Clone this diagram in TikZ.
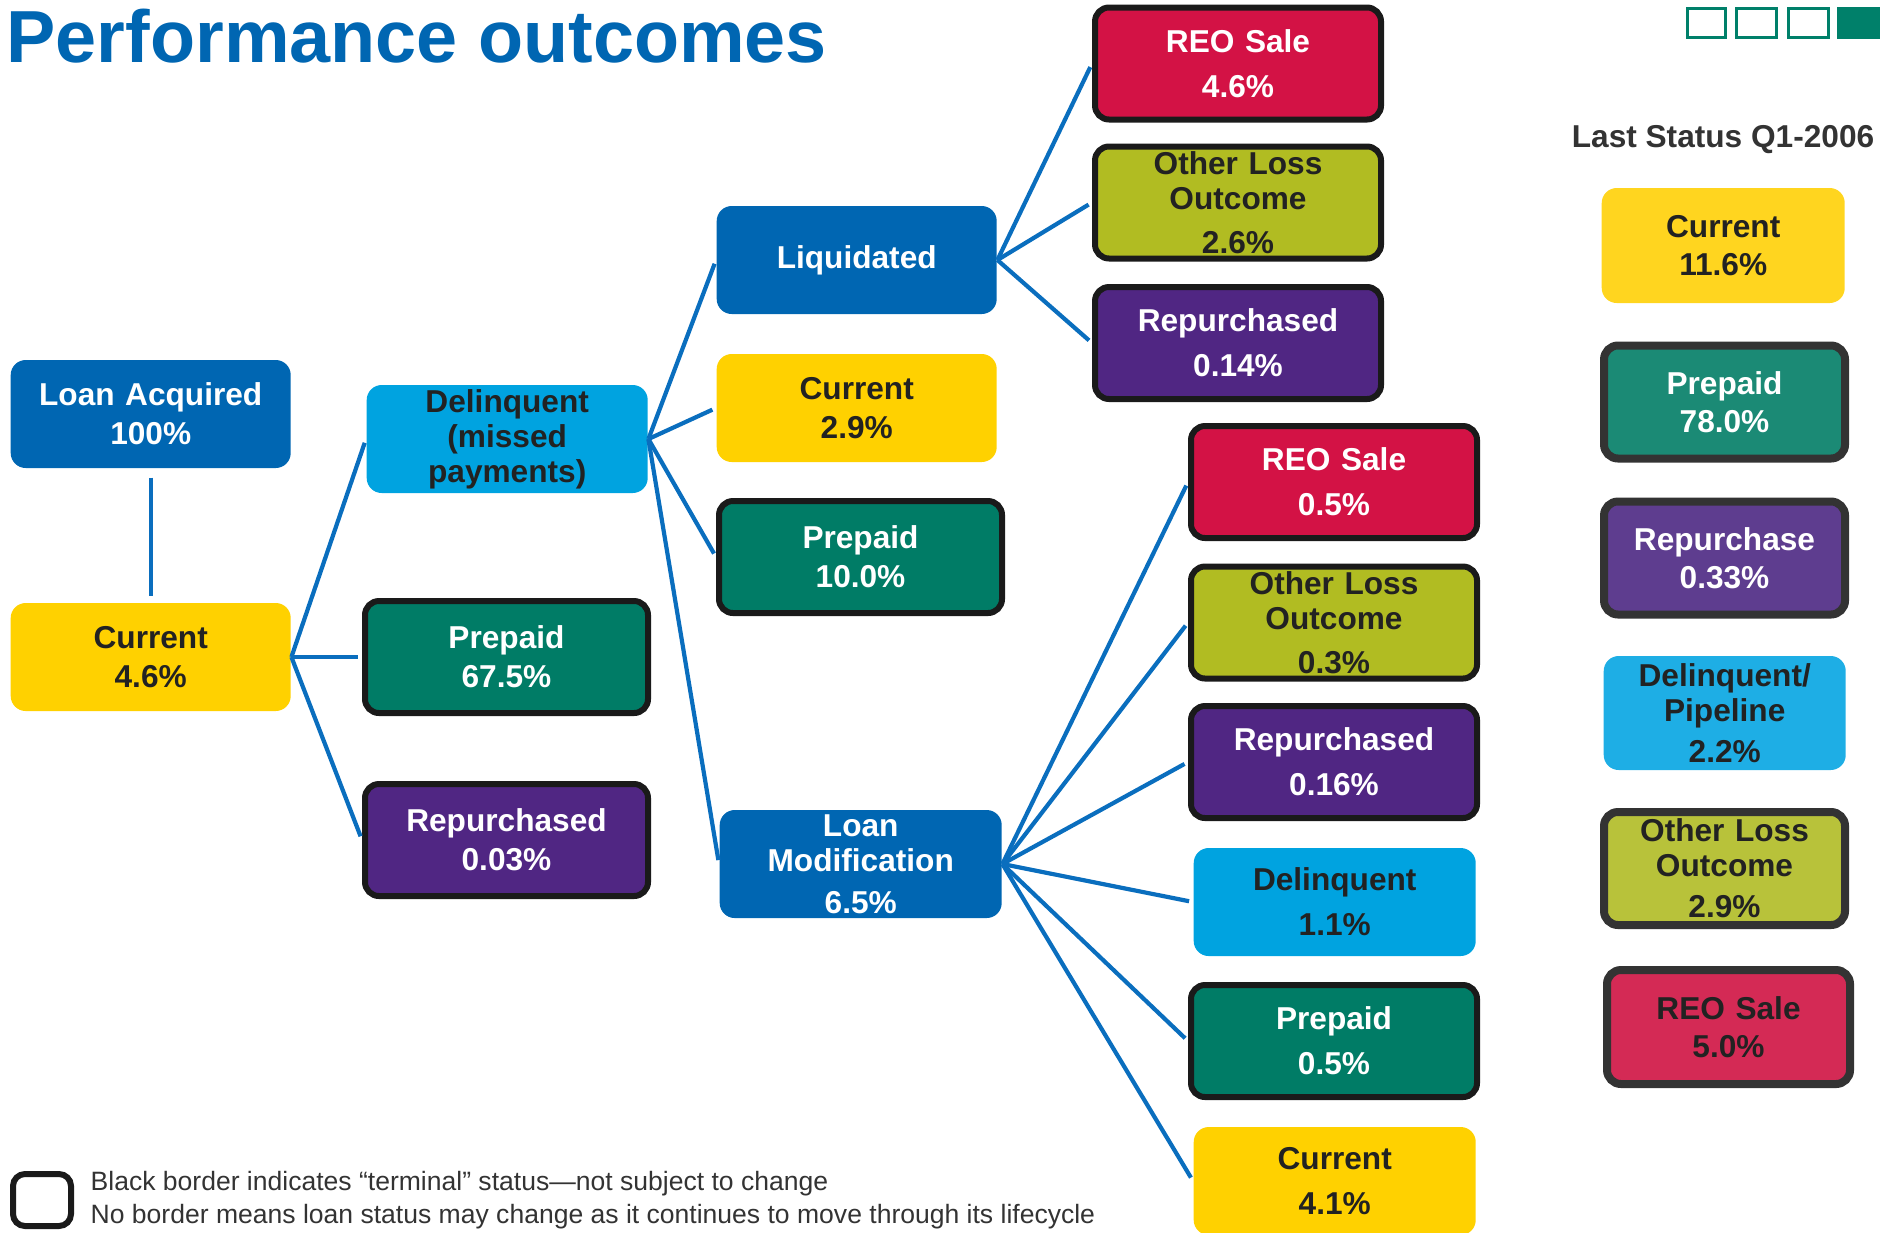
\documentclass[tikz,border=0pt]{standalone}
\usepackage{fontspec}
\setmainfont{Liberation Sans}
\usepackage{tikz}
\definecolor{navy}{RGB}{0,102,178}
\definecolor{gold}{RGB}{255,209,0}
\definecolor{sky}{RGB}{0,163,224}
\definecolor{teal}{RGB}{0,124,102}
\definecolor{plum}{RGB}{80,38,131}
\definecolor{olive}{RGB}{177,188,34}
\definecolor{ruby}{RGB}{211,18,69}
\definecolor{lgold}{RGB}{255,213,31}
\definecolor{lteal}{RGB}{27,138,117}
\definecolor{lplum}{RGB}{94,61,143}
\definecolor{lsky}{RGB}{30,174,229}
\definecolor{lolive}{RGB}{184,194,58}
\definecolor{lruby}{RGB}{212,42,85}
\definecolor{ink}{RGB}{34,34,34}
\definecolor{frame}{RGB}{26,26,26}
\definecolor{lframe}{RGB}{51,51,51}
\definecolor{linkblue}{RGB}{10,110,190}
\definecolor{sqgreen}{RGB}{0,128,106}

\begin{document}
\begin{tikzpicture}[
  box/.style={rectangle,rounded corners=0.15cm,inner sep=0pt,align=center,minimum height=1.08cm,font=\bfseries\fontsize{9}{11}\selectfont},
  term/.style={box,draw=frame,line width=0.06cm,rounded corners=0.14cm,minimum height=1.12cm},
  lterm/.style={box,draw=lframe,line width=0.08cm,rounded corners=0.14cm,minimum height=1.13cm},
  loose/.style={font=\bfseries\fontsize{9}{12.8}\selectfont},
  tight/.style={font=\bfseries\fontsize{9}{10}\selectfont},
  link/.style={draw=linkblue,line width=0.042cm,shorten >=0.04cm}]
\useasboundingbox (0,0) rectangle (18.8,-12.32);

\node[anchor=base west,inner sep=0pt,text=navy,font=\bfseries\fontsize{21}{25}\selectfont] (title) at (0.06,-0.62) {Performance outcomes};

 \node[box,fill=navy,text=white,anchor=west,text width=2.80cm] (acq) at (0.10,-4.14) {Loan Acquired\\100\%};
  \node[box,fill=gold,text=ink,anchor=west,text width=2.80cm] (cur) at (0.10,-6.57) {Current\\4.6\%};
   \draw[link,shorten <=0.09cm,shorten >=0.06cm](acq.south) -- (cur.north) ;

 \node[box,tight,fill=sky,text=ink,anchor=west,text width=2.81cm] (delq) at (3.66,-4.39) {Delinquent\\(missed\\payments)};
  \node[term,fill=teal,text=white,anchor=west,text width=2.83cm] (pre) at (3.62,-6.57) {Prepaid\\67.5\%};
    \node[term,fill=plum,text=white,anchor=west,text width=2.83cm] (rep) at (3.62,-8.40) {Repurchased\\0.03\%};
       \draw[link](cur.east) -- (delq.west) ;
         \draw[link](cur.east) -- (pre.west) ;
         \draw[link](cur.east) -- (rep.west) ;

 \node[box,fill=navy,text=white,anchor=west,text width=2.80cm] (liq) at (7.16,-2.60) {Liquidated};
  \node[box,fill=gold,text=ink,anchor=west,text width=2.80cm] (cur2) at (7.16,-4.08) {Current\\2.9\%};
   \node[term,fill=teal,text=white,anchor=west,text width=2.83cm] (pre2) at (7.16,-5.57) {Prepaid\\10.0\%};
    \node[box,tight,fill=navy,text=white,anchor=west,text width=2.82cm] (mod) at (7.19,-8.64) {Loan\\Modification\\[0.07cm]6.5\%};
       \draw[link](delq.east) -- (liq.west) ;
         \draw[link](delq.east) -- (cur2.west) ;
         \draw[link](delq.east) -- (pre2.west) ;
         \draw[link](delq.east) -- (mod.west) ;

 \node[term,loose,fill=ruby,text=white,anchor=west,text width=2.86cm] (reo) at (10.92,-0.635) {REO Sale\\4.6\%};
  \node[term,tight,fill=olive,text=ink,anchor=west,text width=2.86cm] (oth) at (10.92,-2.025) {Other Loss\\Outcome\\[0.09cm]2.6\%};
   \node[term,loose,fill=plum,text=white,anchor=west,text width=2.86cm] (rep2) at (10.92,-3.43) {Repurchased\\0.14\%};
       \draw[link](liq.east) -- (reo.west) ;
         \draw[link](liq.east) -- (oth.west) ;
         \draw[link](liq.east) -- (rep2.west) ;

 \node[term,loose,fill=ruby,text=white,anchor=west,text width=2.86cm] (reo2) at (11.88,-4.82) {REO Sale\\0.5\%};
  \node[term,tight,fill=olive,text=ink,anchor=west,text width=2.86cm] (oth2) at (11.88,-6.225) {Other Loss\\Outcome\\[0.09cm]0.3\%};
   \node[term,loose,fill=plum,text=white,anchor=west,text width=2.86cm] (rep3) at (11.88,-7.62) {Repurchased\\0.16\%};
    \node[box,loose,fill=sky,text=ink,anchor=west,text width=2.82cm] (del2) at (11.93,-9.02) {Delinquent\\1.1\%};
     \node[term,loose,fill=teal,text=white,anchor=west,text width=2.86cm] (pre3) at (11.88,-10.41) {Prepaid\\0.5\%};
      \node[box,loose,fill=gold,text=ink,anchor=west,text width=2.82cm] (cur3) at (11.93,-11.81) {Current\\4.1\%};
       \draw[link](mod.east) -- (reo2.west) ;
         \draw[link](mod.east) -- (oth2.west) ;
         \draw[link](mod.east) -- (rep3.west) ;
         \draw[link](mod.east) -- (del2.west) ;
         \draw[link](mod.east) -- (pre3.west) ;
         \draw[link](mod.east) -- (cur3.west) ;

% last status column
\node[anchor=base,inner sep=0pt,text=lframe,font=\bfseries\fontsize{9}{11}\selectfont] (status) at (17.23,-1.47) {Last Status Q1-2006};
 \node[box,fill=lgold,text=ink,anchor=west,text width=2.43cm,minimum height=1.15cm,font=\bfseries\fontsize{9}{10.8}\selectfont] (lcur) at (16.01,-2.455) {Current\\11.6\%};
  \node[lterm,fill=lteal,text=white,anchor=west,text width=2.41cm,font=\bfseries\fontsize{9}{10.8}\selectfont] (lpre) at (16.00,-4.02) {Prepaid\\78.0\%};
   \node[lterm,fill=lplum,text=white,anchor=west,text width=2.41cm,font=\bfseries\fontsize{9}{10.8}\selectfont] (lrep) at (16.00,-5.58) {Repurchase\\0.33\%};
    \node[box,tight,fill=lsky,text=ink,anchor=west,text width=2.42cm,minimum height=1.14cm] (ldel) at (16.03,-7.13) {Delinquent/\\Pipeline\\[0.06cm]2.2\%};
     \node[lterm,tight,fill=lolive,text=ink,anchor=west,text width=2.41cm] (loth) at (16.00,-8.685) {Other Loss\\Outcome\\[0.06cm]2.9\%};
      \node[lterm,fill=lruby,text=ink,anchor=west,text width=2.43cm,minimum height=1.14cm,font=\bfseries\fontsize{9}{10.8}\selectfont] (lreo) at (16.03,-10.27) {REO Sale\\5.0\%};

% page marks
\draw[sqgreen,line width=0.03cm] (16.87,-0.085) rectangle (17.25,-0.375);
\draw[sqgreen,line width=0.03cm] (17.36,-0.085) rectangle (17.76,-0.375);
\draw[sqgreen,line width=0.03cm] (17.88,-0.085) rectangle (18.28,-0.375);
\fill[sqgreen] (18.37,-0.07) rectangle (18.85,-0.39);

% legend
\node[draw=frame,line width=0.06cm,rounded corners=0.12cm,fill=white,minimum width=0.58cm,minimum height=0.52cm,inner sep=0pt,anchor=west] (legbox) at (0.10,-12.00) {};
\node[anchor=west,inner sep=0pt,align=left,text=lframe,font=\fontsize{7.55}{9.2}\selectfont] (legtext) at (0.90,-12.00) {Black border indicates “terminal” status---not subject to change\\No border means loan status may change as it continues to move through its lifecycle};
\end{tikzpicture}
\end{document}
